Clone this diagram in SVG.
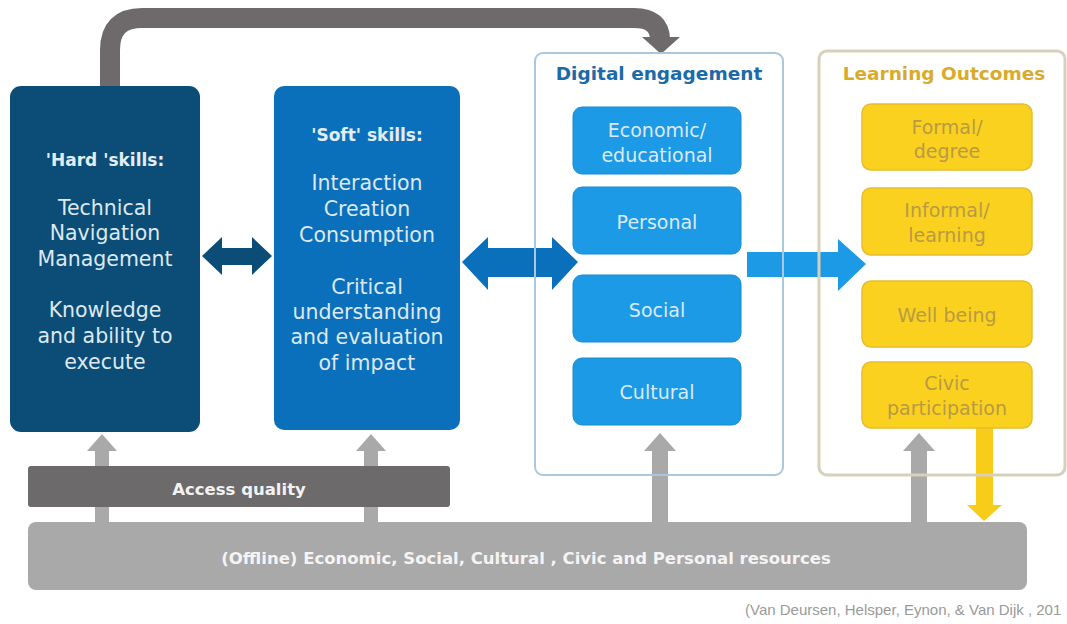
<svg xmlns="http://www.w3.org/2000/svg" width="1067" height="624" viewBox="0 0 1067 624">
<defs>
<style>
text{font-family:"DejaVu Sans","Liberation Sans",sans-serif;text-anchor:middle}
.lt{fill:#dde8f1;font-size:20.5px}
.dt{fill:#dbeaf6;font-size:19px}
.yt{fill:#b89a44;font-size:19px}
.hd{font-weight:bold;font-size:17px;fill:#e3edf5}
.dbox{fill:#1d9ae5;stroke:#178bd3;stroke-width:1}
.ybox{fill:#fbd11f;stroke:#e6bd2c;stroke-width:1.5}
.gar{fill:#a9a9a9}
</style>
</defs>
<rect width="1067" height="624" fill="#ffffff"/>

<g id="connectors">
<path d="M110 88 V50 Q110 18 142 18 H634 Q660 18 660 40" fill="none" stroke="#6e6a6c" stroke-width="20"/>
<polygon points="642,37 680,37 661,54" fill="#6e6a6c"/>
<polygon points="202,256 222,237 222,248 252,248 252,237 272,256 252,275 252,265 222,265 222,275" fill="#0b4d77"/>
<polygon points="462,262 488,237 488,248 552,248 552,237 578,262 552,290 552,277 488,277 488,290" fill="#0a70bb"/>
<polygon points="747,252 838,252 838,239 866,264 838,291 838,277 747,277" fill="#1d9ae5"/>
<rect x="95" y="448" width="14" height="76" class="gar"/>
<polygon points="87,451 117,451 102,434" class="gar"/>
<rect x="364" y="448" width="14" height="76" class="gar"/>
<polygon points="356,451 386,451 371,434" class="gar"/>
<rect x="652" y="448" width="16" height="76" class="gar"/>
<polygon points="644,451 676,451 660,433" class="gar"/>
<rect x="911" y="448" width="16" height="76" class="gar"/>
<polygon points="903,451 935,451 919,433" class="gar"/>
<rect x="976" y="426" width="17" height="81" fill="#f7cd1a"/>
<polygon points="967,505 1002,505 984,521" fill="#f7cd1a"/>
</g>

<g id="hard-skills">
<rect x="10" y="86" width="190" height="346" rx="11" fill="#0b4d77"/>
<text x="105" y="166" class="hd">'Hard 'skills:</text>
<text x="105" y="215" class="lt">Technical</text>
<text x="105" y="240" class="lt">Navigation</text>
<text x="105" y="266" class="lt">Management</text>
<text x="105" y="317" class="lt">Knowledge</text>
<text x="105" y="343" class="lt">and ability to</text>
<text x="105" y="369" class="lt">execute</text>
</g>

<g id="soft-skills">
<rect x="274" y="86" width="186" height="344" rx="10" fill="#0a70bb"/>
<text x="367" y="141" class="hd">'Soft' skills:</text>
<text x="367" y="190" class="lt">Interaction</text>
<text x="367" y="216" class="lt">Creation</text>
<text x="367" y="242" class="lt">Consumption</text>
<text x="367" y="294" class="lt">Critical</text>
<text x="367" y="319" class="lt">understanding</text>
<text x="367" y="344" class="lt">and evaluation</text>
<text x="367" y="370" class="lt">of impact</text>
</g>

<g id="digital-engagement">
<rect x="535" y="53" width="248" height="422" rx="8" fill="none" stroke="#a9c7de" stroke-width="2"/>
<text x="659" y="80" style="font-weight:bold;font-size:18.5px;fill:#1c6aa8">Digital engagement</text>
</g>
<g id="economic-educational">
<rect x="573" y="107" width="168" height="67" rx="9" class="dbox"/>
<text x="657" y="137" class="dt">Economic/</text>
<text x="657" y="162" class="dt">educational</text>
</g>
<g id="personal">
<rect x="573" y="187" width="168" height="67" rx="9" class="dbox"/>
<text x="657" y="229" class="dt">Personal</text>
</g>
<g id="social">
<rect x="573" y="275" width="168" height="67" rx="9" class="dbox"/>
<text x="657" y="317" class="dt">Social</text>
</g>
<g id="cultural">
<rect x="573" y="358" width="168" height="67" rx="9" class="dbox"/>
<text x="657" y="399" class="dt">Cultural</text>
</g>

<g id="learning-outcomes">
<rect x="819" y="51" width="246" height="424" rx="8" fill="none" stroke="#d7d0bb" stroke-width="3"/>
<text x="944" y="80" style="font-weight:bold;font-size:18.5px;fill:#d9ab2c">Learning Outcomes</text>
</g>
<g id="formal-degree">
<rect x="862" y="104" width="170" height="66" rx="9" class="ybox"/>
<text x="947" y="134" class="yt">Formal/</text>
<text x="947" y="158" class="yt">degree</text>
</g>
<g id="informal-learning">
<rect x="862" y="188" width="170" height="67" rx="9" class="ybox"/>
<text x="947" y="217" class="yt">Informal/</text>
<text x="947" y="242" class="yt">learning</text>
</g>
<g id="well-being">
<rect x="862" y="281" width="170" height="66" rx="9" class="ybox"/>
<text x="947" y="322" class="yt">Well being</text>
</g>
<g id="civic-participation">
<rect x="862" y="362" width="170" height="66" rx="9" class="ybox"/>
<text x="947" y="390" class="yt">Civic</text>
<text x="947" y="415" class="yt">participation</text>
</g>

<g id="access-quality">
<rect x="28" y="466" width="422" height="41" rx="3" fill="#6d6a6b"/>
<text x="239" y="495" style="font-weight:bold;font-size:16.5px;fill:#f2f2f2">Access quality</text>
</g>

<g id="offline-resources">
<rect x="28" y="522" width="999" height="68" rx="8" fill="#a9a9a9"/>
<text x="526" y="564" style="font-weight:bold;font-size:16.5px;fill:#f4f4f4">(Offline) Economic, Social, Cultural , Civic and Personal resources</text>
</g>

<text x="745" y="615" style="text-anchor:start;font-family:'Liberation Sans',sans-serif;font-size:15px;fill:#9a9a9a">(Van Deursen, Helsper, Eynon, &amp; Van Dijk , 201</text>
</svg>
